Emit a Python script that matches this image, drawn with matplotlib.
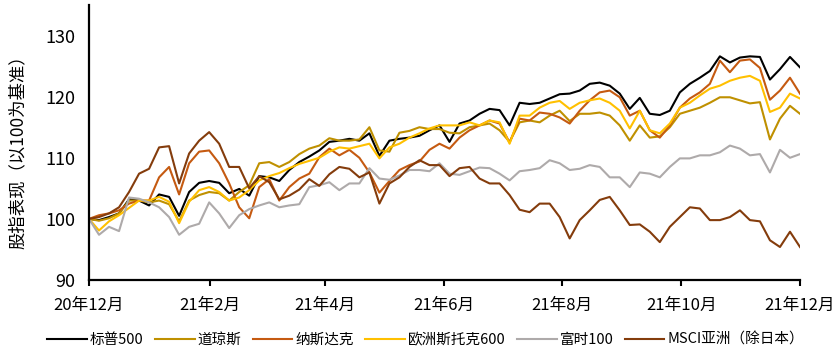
import matplotlib
matplotlib.use("Agg")
import matplotlib.pyplot as plt
import pandas as pd

plt.rcParams['font.family'] = ['Noto Sans CJK SC', 'DejaVu Sans']

start_date = '2020-12-01'
end_date = '2021-12-01'
n_points = 72

series_names = ['标普500', '道琼斯', '纳斯达克', '欧洲斯托克600', '富时100', 'MSCI亚洲（除日本）']

sp500 = [100.0, 99.8, 100.3, 100.9, 103.2, 103.0, 102.2, 104.0, 103.6, 100.5,
         104.4, 105.9, 106.2, 105.9, 104.2, 104.9, 103.8, 107.0, 106.8, 106.2,
         108.0, 109.3, 110.2, 111.2, 112.6, 112.8, 113.1, 112.8, 114.0, 110.3,
         112.8, 113.1, 113.3, 113.6, 114.5, 115.3, 112.6, 115.6, 116.1, 117.2,
         118.0, 117.8, 115.3, 119.0, 118.8, 119.0, 119.7, 120.4, 120.5, 121.0,
         122.1, 122.3, 121.8, 120.5, 118.0, 119.8, 117.2, 117.0, 117.7, 120.7,
         122.1, 123.1, 124.2, 126.6, 125.6, 126.4, 126.6, 126.5, 122.8, 124.5,
         126.5, 124.8]

dow = [100.0, 99.7, 100.1, 100.9, 103.0, 103.0, 102.7, 103.0, 102.4, 99.6,
       103.0, 103.9, 104.4, 104.2, 103.0, 104.4, 105.5, 109.1, 109.3, 108.5,
       109.3, 110.6, 111.5, 112.0, 113.2, 112.8, 112.8, 113.0, 115.0, 111.2,
       111.0, 114.1, 114.4, 115.0, 114.7, 114.7, 114.1, 114.0, 115.0, 115.3,
       115.6, 114.5, 112.6, 115.8, 116.1, 115.8, 116.9, 117.7, 116.0, 117.2,
       117.2, 117.4, 116.9, 115.3, 112.8, 115.3, 113.3, 113.5, 115.0, 117.2,
       117.7, 118.2, 119.0, 119.9, 119.9, 119.4, 118.9, 119.1, 113.0, 116.4,
       118.5, 117.2]

nasdaq = [100.0, 100.6, 100.9, 101.4, 102.5, 103.0, 103.0, 106.8, 108.5, 104.0,
          109.1, 111.0, 111.2, 109.1, 105.8, 101.9, 100.1, 105.2, 106.5, 103.0,
          105.2, 106.6, 107.4, 110.1, 111.5, 110.4, 111.3, 110.0, 107.6, 104.3,
          106.2, 108.0, 108.8, 109.4, 111.3, 112.3, 111.5, 113.3, 114.5, 115.3,
          116.1, 115.6, 112.5, 116.4, 116.1, 117.4, 117.2, 116.6, 115.6, 117.7,
          119.4, 120.7, 121.0, 119.9, 116.9, 117.7, 114.5, 113.3, 115.3, 118.2,
          119.7, 120.7, 122.1, 125.9, 124.0, 125.9, 126.1, 124.7, 119.5, 121.0,
          123.1, 120.5]

stoxx600 = [100.0, 98.1, 99.6, 100.6, 101.8, 103.0, 103.0, 103.6, 102.8, 99.3,
            102.8, 104.7, 105.2, 104.4, 103.0, 103.5, 104.7, 106.3, 107.0, 107.5,
            108.3, 109.0, 109.5, 110.0, 111.0, 111.7, 111.5, 111.9, 112.3, 109.9,
            111.7, 112.3, 113.3, 114.0, 114.8, 115.3, 115.3, 115.3, 115.8, 115.3,
            116.1, 115.8, 112.3, 116.9, 116.9, 118.2, 119.0, 119.3, 118.0, 119.0,
            119.4, 119.7, 119.0, 117.7, 114.8, 117.7, 114.5, 114.0, 115.6, 118.2,
            119.0, 120.2, 121.3, 121.8, 122.6, 123.1, 123.4, 122.6, 117.5, 118.2,
            120.5, 119.7]

ftse100 = [100.0, 97.4, 98.7, 98.0, 103.5, 103.3, 102.7, 101.9, 100.3, 97.4,
           98.7, 99.2, 102.7, 100.9, 98.5, 100.6, 101.6, 102.2, 102.7, 101.9,
           102.2, 102.4, 105.2, 105.5, 106.0, 104.7, 105.8, 105.8, 108.3, 106.6,
           106.4, 107.1, 108.0, 108.0, 107.8, 109.1, 107.4, 107.2, 107.8, 108.4,
           108.3, 107.4, 106.3, 107.8, 108.0, 108.3, 109.6, 109.1, 108.0, 108.2,
           108.8, 108.5, 106.8, 106.8, 105.2, 107.6, 107.4, 106.8, 108.5, 109.9,
           109.9, 110.4, 110.4, 110.9, 112.0, 111.5, 110.4, 110.6, 107.6, 111.3,
           110.0, 110.6]

msci_asia = [100.0, 100.3, 100.9, 101.9, 104.4, 107.4, 108.2, 111.7, 111.9, 105.8,
             110.7, 112.8, 114.2, 112.3, 108.5, 108.5, 105.0, 107.0, 106.0, 103.2,
             103.8, 104.8, 106.5, 105.4, 107.3, 108.5, 108.2, 106.8, 107.6, 102.5,
             105.8, 106.8, 108.5, 109.6, 108.8, 108.8, 107.0, 108.3, 108.5, 106.6,
             105.8, 105.8, 103.9, 101.5, 101.1, 102.5, 102.5, 100.3, 96.8, 99.8,
             101.4, 103.1, 103.6, 101.4, 99.0, 99.1, 97.9, 96.2, 98.7, 100.3,
             101.9, 101.7, 99.8, 99.8, 100.3, 101.4, 99.8, 99.6, 96.5, 95.4,
             97.9, 95.4]

tick_dates = ['2020-12-01', '2021-02-01', '2021-04-01', '2021-06-01',
              '2021-08-01', '2021-10-01', '2021-12-01']
tick_labels = ['20年12月', '21年2月', '21年4月', '21年6月', '21年8月', '21年10月', '21年12月']
y_ticks = [90, 100, 110, 120, 130]
y_label = '股指表现（以100为基准）'

colors = ['#000000', '#BF9000', '#C55A11', '#FFC000', '#AEAAAA', '#843C0C']

dates = pd.date_range(start_date, end_date, periods=n_points)
all_series = [sp500, dow, nasdaq, stoxx600, ftse100, msci_asia]

fig = plt.figure(figsize=(8.38, 3.6), dpi=100)
ax = fig.add_axes([89 / 838, 80 / 360, 711 / 838, 275 / 360])

handles = []
for name, vals, c in zip(series_names, all_series, colors):
    h, = ax.plot(dates, vals, color=c, lw=1.5, label=name, solid_joinstyle='round')
    handles.append(h)

ax.set_xlim(pd.Timestamp(start_date), pd.Timestamp(end_date))
ax.set_ylim(90, 135)
ax.set_yticks(y_ticks)
ax.set_xticks(pd.to_datetime(tick_dates))
ax.set_xticklabels(tick_labels)

for s in ['top', 'right']:
    ax.spines[s].set_visible(False)
for s in ['left', 'bottom']:
    ax.spines[s].set_linewidth(1.6)
    ax.spines[s].set_color('black')

ax.tick_params(axis='y', length=0, pad=10, labelsize=13)
ax.tick_params(axis='x', direction='out', length=4, width=1.5, pad=8, labelsize=12)

fig.text(18 / 838, 1 - 148 / 360, y_label, rotation=90, ha='center', va='center', fontsize=12.5)

fig.legend(handles, series_names, ncol=6, loc='center', bbox_to_anchor=(0.508, 1 - 340 / 360),
           frameon=False, fontsize=10.5, handlelength=2.7, handletextpad=0.2, columnspacing=0.8)

fig.savefig('out.png', dpi=100)
